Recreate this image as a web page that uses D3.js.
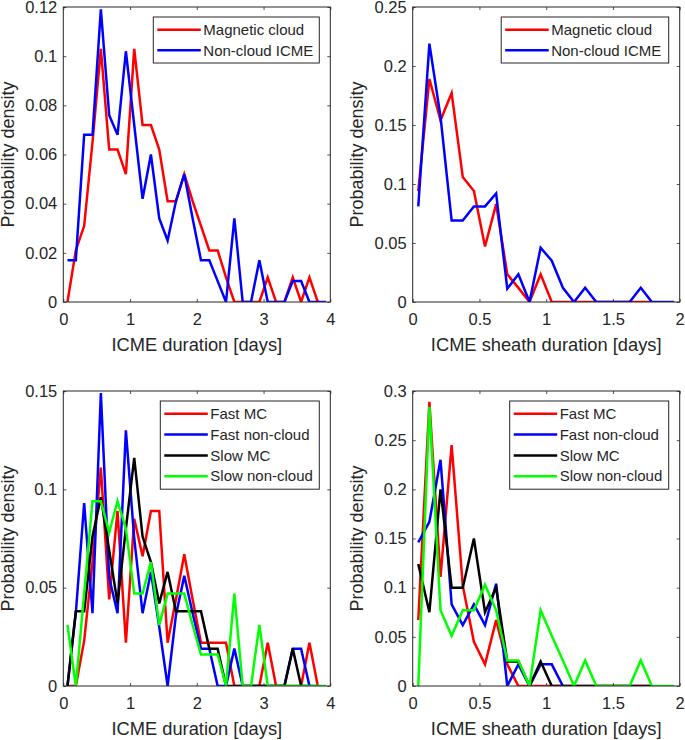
<!DOCTYPE html>
<html>
<head>
<meta charset="utf-8">
<script src="https://cdn.jsdelivr.net/npm/d3@7"></script>
<style>
  body { margin: 0; background: #fff; }
  svg text { font-family: "Liberation Sans", Arial, sans-serif; fill: #262626; }
</style>
</head>
<body>
<div id="chart"></div>
<script>
  // ─── Histogram data (probability density per bin) ───
  // duration bins: 3 h wide over 0-4 days, sheath bins: 2 h wide over 0-2 days
  const durationBin = 0.125;
  const sheathBin = 1 / 12;

  const mcDuration = [0, 0.021, 0.031, 0.065, 0.103, 0.062, 0.062, 0.052, 0.103, 0.072, 0.072, 0.062, 0.041, 0.041, 0.052, 0.041,
    0.031, 0.021, 0.021, 0.010, 0, 0, 0, 0, 0.010, 0, 0, 0.010, 0, 0.010, 0];
  const ncDuration = [0.017, 0.017, 0.068, 0.068, 0.119, 0.076, 0.068, 0.102, 0.072, 0.042, 0.060, 0.034, 0.025, 0.041, 0.052, 0.034,
    0.017, 0.017, 0.0085, 0, 0.034, 0, 0, 0.017, 0, 0, 0, 0.0085, 0.0085, 0, 0, 0];

  const mcSheath = [0.094, 0.189, 0.154, 0.177, 0.106, 0.094, 0.047, 0.083, 0.0235, 0.012, 0, 0.0235, 0, 0, 0, 0, 0, 0, 0, 0, 0, 0];
  const ncSheath = [0.081, 0.219, 0.157, 0.069, 0.069, 0.081, 0.081, 0.092, 0.0113, 0.0235, 0, 0.046, 0.035, 0.012, 0, 0.012,
    0, 0, 0, 0, 0.012, 0, 0, 0];

  const fastMcDuration = [0, 0, 0.023, 0.063, 0.111, 0.044, 0.089, 0.022, 0.085, 0.066, 0.089, 0.089, 0.022, 0.044, 0.067, 0.044,
    0.022, 0.022, 0.022, 0.022, 0, 0, 0, 0, 0.022, 0, 0, 0, 0, 0.022, 0];
  const fastNcDuration = [0, 0.037, 0.093, 0.037, 0.149, 0.055, 0.037, 0.130, 0.075, 0.037, 0.058, 0.030, 0, 0.036, 0.056, 0.037,
    0.019, 0.019, 0, 0, 0.019, 0, 0, 0, 0, 0, 0, 0.019, 0.019, 0, 0];
  const slowMcDuration = [0, 0.038, 0.038, 0.076, 0.096, 0.069, 0.042, 0.080, 0.116, 0.076, 0.063, 0.042, 0.058, 0.038, 0.038, 0.038,
    0.038, 0.019, 0.019, 0, 0, 0, 0, 0, 0, 0, 0, 0.019, 0, 0];
  const slowNcDuration = [0.031, 0, 0.047, 0.094, 0.094, 0.078, 0.094, 0.080, 0.047, 0.047, 0.063, 0.031, 0.047, 0.047, 0.047, 0.031,
    0.016, 0.016, 0.016, 0, 0.047, 0, 0, 0.031, 0, 0, 0, 0, 0, 0, 0, 0];

  const fastMcSheath = [0.067, 0.289, 0.111, 0.245, 0.102, 0.045, 0.022, 0.067, 0.022, 0, 0, 0, 0, 0, 0, 0, 0, 0, 0, 0, 0, 0];
  const fastNcSheath = [0.146, 0.167, 0.230, 0.083, 0.062, 0.083, 0.062, 0.104, 0, 0.022, 0, 0.022, 0.022, 0];
  const slowMcSheath = [0.124, 0.075, 0.200, 0.100, 0.100, 0.150, 0.075, 0.100, 0.025, 0.025, 0, 0.025, 0, 0, 0, 0, 0, 0, 0, 0, 0, 0];
  const slowNcSheath = [0, 0.284, 0.077, 0.051, 0.077, 0.077, 0.103, 0.077, 0.026, 0.026, 0, 0.077, 0.051, 0.026, 0, 0.026,
    0, 0, 0, 0, 0.026, 0, 0, 0];

  const durationTicks = [0, 1, 2, 3, 4];
  const sheathTicks = [0, 0.5, 1, 1.5, 2];

  const W = 685, H = 740;
  const panelW = 267, panelH = 295;

  const panels = [
    { left: 63.3, top: 7, bin: durationBin, xMax: 4, xTicks: durationTicks, yMax: 0.12,
      yTicks: [0, 0.02, 0.04, 0.06, 0.08, 0.1, 0.12], xLabel: 'ICME duration [days]', legendW: 166,
      series: [
        { name: 'Magnetic cloud', color: '#ff0000', values: mcDuration },
        { name: 'Non-cloud ICME', color: '#0000ff', values: ncDuration }
      ] },
    { left: 412.7, top: 7, bin: sheathBin, xMax: 2, xTicks: sheathTicks, yMax: 0.25,
      yTicks: [0, 0.05, 0.1, 0.15, 0.2, 0.25], xLabel: 'ICME sheath duration [days]', legendW: 167.5,
      series: [
        { name: 'Magnetic cloud', color: '#ff0000', values: mcSheath },
        { name: 'Non-cloud ICME', color: '#0000ff', values: ncSheath }
      ] },
    { left: 63.3, top: 391, bin: durationBin, xMax: 4, xTicks: durationTicks, yMax: 0.15,
      yTicks: [0, 0.05, 0.1, 0.15], xLabel: 'ICME duration [days]', legendW: 159,
      series: [
        { name: 'Fast MC', color: '#ff0000', values: fastMcDuration },
        { name: 'Fast non-cloud', color: '#0000ff', values: fastNcDuration },
        { name: 'Slow MC', color: '#000000', values: slowMcDuration },
        { name: 'Slow non-cloud', color: '#00ff00', values: slowNcDuration }
      ] },
    { left: 412.7, top: 391, bin: sheathBin, xMax: 2, xTicks: sheathTicks, yMax: 0.3,
      yTicks: [0, 0.05, 0.1, 0.15, 0.2, 0.25, 0.3], xLabel: 'ICME sheath duration [days]', legendW: 159,
      series: [
        { name: 'Fast MC', color: '#ff0000', values: fastMcSheath },
        { name: 'Fast non-cloud', color: '#0000ff', values: fastNcSheath },
        { name: 'Slow MC', color: '#000000', values: slowMcSheath },
        { name: 'Slow non-cloud', color: '#00ff00', values: slowNcSheath }
      ] }
  ];

  const svg = d3.select('#chart').append('svg')
    .attr('width', W)
    .attr('height', H);

  const fmt = d3.format('~g');

  panels.forEach((p, i) => {
    const x = d3.scaleLinear().domain([0, p.xMax]).range([0, panelW]);
    const y = d3.scaleLinear().domain([0, p.yMax]).range([panelH, 0]);

    const g = svg.append('g').attr('transform', `translate(${p.left},${p.top})`);

    g.append('clipPath').attr('id', `clip${i}`)
      .append('rect').attr('width', panelW).attr('height', panelH);

    // series lines, bin centres on x
    const line = d3.line()
      .x((d, k) => x((k + 0.5) * p.bin))
      .y(d => y(d));

    g.append('g').attr('clip-path', `url(#clip${i})`)
      .selectAll('path')
      .data(p.series)
      .enter()
      .append('path')
      .attr('d', s => line(s.values))
      .attr('fill', 'none')
      .attr('stroke', s => s.color)
      .attr('stroke-width', 2.5)
      .attr('stroke-linejoin', 'miter');

    // axes: ticks inside on all four sides, like a boxed matlab axes
    const tickLen = 3;
    const axisStyle = sel => {
      sel.select('.domain').remove();
      sel.selectAll('.tick line').attr('stroke', '#262626').attr('stroke-width', 0.8);
    };

    g.append('g').attr('transform', `translate(0,${panelH})`)
      .call(d3.axisBottom(x).tickValues(p.xTicks).tickSize(-tickLen).tickFormat(fmt).tickPadding(11))
      .call(axisStyle)
      .selectAll('text').attr('font-size', '16.5px').attr('fill', '#262626')
      .attr('font-family', '"Liberation Sans", Arial, sans-serif');

    g.append('g')
      .call(d3.axisTop(x).tickValues(p.xTicks).tickSize(-tickLen).tickFormat(''))
      .call(axisStyle);

    g.append('g')
      .call(d3.axisLeft(y).tickValues(p.yTicks).tickSize(-tickLen).tickFormat(fmt).tickPadding(6))
      .call(axisStyle)
      .selectAll('text').attr('font-size', '16.5px').attr('fill', '#262626')
      .attr('font-family', '"Liberation Sans", Arial, sans-serif');

    g.append('g').attr('transform', `translate(${panelW},0)`)
      .call(d3.axisRight(y).tickValues(p.yTicks).tickSize(-tickLen).tickFormat(''))
      .call(axisStyle);

    g.append('rect')
      .attr('width', panelW)
      .attr('height', panelH)
      .attr('fill', 'none')
      .attr('stroke', '#262626')
      .attr('stroke-width', 1);

    // labels
    g.append('text')
      .attr('x', panelW / 2)
      .attr('y', panelH + 49)
      .attr('text-anchor', 'middle')
      .attr('font-size', '18.3px')
      .text(p.xLabel);

    g.append('text')
      .attr('transform', `translate(-49.5,${panelH / 2}) rotate(-90)`)
      .attr('text-anchor', 'middle')
      .attr('font-size', '18px')
      .text('Probability density');

    // legend, top right corner
    const rowH = p.series.length > 2 ? 20.8 : 20.5;
    const legH = p.series.length * rowH + 5;
    const leg = g.append('g').attr('transform', `translate(${panelW - 11 - p.legendW},10)`);

    leg.append('rect')
      .attr('width', p.legendW)
      .attr('height', legH)
      .attr('fill', '#fff')
      .attr('stroke', '#262626')
      .attr('stroke-width', 1);

    p.series.forEach((s, k) => {
      const cy = 12.8 + k * rowH;
      leg.append('line')
        .attr('x1', 4).attr('x2', 47.5)
        .attr('y1', cy).attr('y2', cy)
        .attr('stroke', s.color)
        .attr('stroke-width', 2.5);
      leg.append('text')
        .attr('x', 50)
        .attr('y', cy)
        .attr('dy', '0.35em')
        .attr('font-size', '15px')
        .text(s.name);
    });
  });
</script>
</body>
</html>
